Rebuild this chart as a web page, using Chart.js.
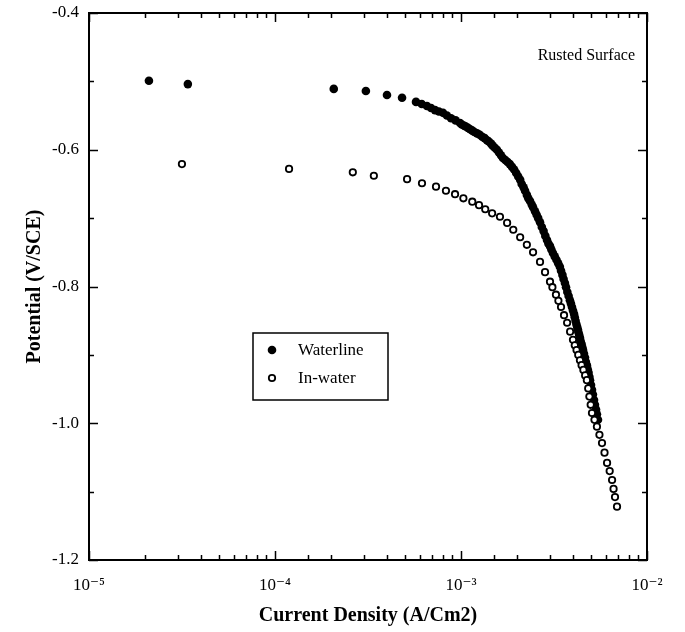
<!DOCTYPE html>
<html>
<head>
<meta charset="utf-8">
<script src="https://cdn.jsdelivr.net/npm/chart.js@4.4.1/dist/chart.umd.min.js"></script>
<style>
  html, body { margin: 0; padding: 0; background: #fff; }
  #wrap { width: 685px; height: 632px; }
</style>
</head>
<body>
<div id="wrap"><canvas id="polChart" width="685" height="632"></canvas></div>
<script>
// valores (densidade de corrente em A/cm2, potencial em V/SCE)
const waterlineX = [2.10e-5, 3.40e-5, 2.07e-4, 3.08e-4, 4.00e-4, 4.82e-4, 5.73e-4, 6.15e-4, 6.56e-4, 6.90e-4,
  7.25e-4, 7.60e-4, 8.00e-4, 8.40e-4, 8.84e-4, 9.35e-4, 9.88e-4, 1.01e-3, 1.04e-3, 1.06e-3,
  1.09e-3, 1.12e-3, 1.15e-3, 1.18e-3, 1.22e-3, 1.26e-3, 1.30e-3, 1.34e-3, 1.38e-3, 1.41e-3,
  1.45e-3, 1.48e-3, 1.52e-3, 1.56e-3, 1.60e-3, 1.64e-3, 1.68e-3, 1.73e-3, 1.78e-3, 1.83e-3,
  1.88e-3, 1.93e-3, 1.98e-3, 2.03e-3, 2.08e-3, 2.12e-3, 2.17e-3, 2.21e-3, 2.26e-3, 2.30e-3,
  2.35e-3, 2.40e-3, 2.44e-3, 2.50e-3, 2.55e-3, 2.60e-3, 2.66e-3, 2.72e-3, 2.78e-3, 2.84e-3,
  2.90e-3, 2.95e-3, 3.01e-3, 3.06e-3, 3.12e-3, 3.19e-3, 3.26e-3, 3.33e-3, 3.40e-3, 3.45e-3,
  3.51e-3, 3.56e-3, 3.62e-3, 3.67e-3, 3.73e-3, 3.79e-3, 3.85e-3, 3.90e-3, 3.95e-3, 4.00e-3,
  4.05e-3, 4.09e-3, 4.13e-3, 4.17e-3, 4.21e-3, 4.25e-3, 4.28e-3, 4.32e-3, 4.36e-3, 4.40e-3,
  4.45e-3, 4.49e-3, 4.53e-3, 4.58e-3, 4.64e-3, 4.69e-3, 4.75e-3, 4.80e-3, 4.85e-3, 4.90e-3,
  4.94e-3, 5.00e-3, 5.06e-3, 5.12e-3, 5.19e-3, 5.25e-3, 5.32e-3, 5.38e-3, 5.45e-3];
const waterlineY = [-0.499, -0.504, -0.511, -0.514, -0.520, -0.524, -0.530, -0.533, -0.536, -0.539,
  -0.542, -0.544, -0.546, -0.550, -0.554, -0.557, -0.561, -0.563, -0.565, -0.566,
  -0.568, -0.570, -0.572, -0.574, -0.576, -0.578, -0.581, -0.583, -0.586, -0.588,
  -0.591, -0.594, -0.597, -0.600, -0.604, -0.608, -0.612, -0.615, -0.618, -0.621,
  -0.625, -0.629, -0.634, -0.639, -0.644, -0.650, -0.655, -0.660, -0.666, -0.671,
  -0.675, -0.680, -0.684, -0.690, -0.695, -0.700, -0.706, -0.713, -0.719, -0.726,
  -0.732, -0.737, -0.741, -0.746, -0.751, -0.756, -0.761, -0.766, -0.771, -0.777,
  -0.783, -0.789, -0.795, -0.801, -0.808, -0.814, -0.820, -0.825, -0.830, -0.835,
  -0.840, -0.845, -0.850, -0.855, -0.859, -0.863, -0.867, -0.871, -0.875, -0.880,
  -0.884, -0.889, -0.893, -0.898, -0.904, -0.910, -0.915, -0.921, -0.926, -0.932,
  -0.937, -0.944, -0.951, -0.958, -0.966, -0.973, -0.980, -0.987, -0.995];

const inWaterX = [3.16e-5, 1.19e-4, 2.62e-4, 3.40e-4, 5.13e-4, 6.17e-4, 7.34e-4, 8.30e-4, 9.29e-4, 1.03e-3,
  1.15e-3, 1.25e-3, 1.35e-3, 1.47e-3, 1.62e-3, 1.77e-3, 1.91e-3, 2.08e-3, 2.26e-3, 2.44e-3,
  2.66e-3, 2.83e-3, 3.01e-3, 3.10e-3, 3.24e-3, 3.34e-3, 3.45e-3, 3.58e-3, 3.72e-3, 3.86e-3,
  4.00e-3, 4.09e-3, 4.18e-3, 4.27e-3, 4.36e-3, 4.45e-3, 4.55e-3, 4.65e-3, 4.75e-3, 4.83e-3,
  4.90e-3, 4.98e-3, 5.06e-3, 5.22e-3, 5.38e-3, 5.55e-3, 5.73e-3, 5.91e-3, 6.10e-3, 6.30e-3,
  6.49e-3, 6.61e-3, 6.73e-3, 6.90e-3];
const inWaterY = [-0.621, -0.628, -0.633, -0.638, -0.643, -0.649, -0.654, -0.660, -0.665, -0.671,
  -0.676, -0.681, -0.687, -0.693, -0.698, -0.707, -0.717, -0.728, -0.739, -0.750,
  -0.764, -0.779, -0.793, -0.801, -0.812, -0.821, -0.830, -0.842, -0.853, -0.866,
  -0.878, -0.886, -0.893, -0.900, -0.908, -0.915, -0.922, -0.930, -0.937, -0.949,
  -0.961, -0.973, -0.985, -0.995, -1.005, -1.017, -1.029, -1.043, -1.058, -1.070,
  -1.083, -1.096, -1.108, -1.122];

const seriesNames = ['Waterline', 'In-water'];
const xLimits = [1e-5, 1e-2];
const yLimits = [-1.2, -0.4];
const yLabelTicks = [-0.4, -0.6, -0.8, -1.0, -1.2];
const annotationText = 'Rusted Surface';

const SERIF = '"Liberation Serif", "Times New Roman", "DejaVu Serif", serif';
const SUP = { '-': '\u207B', '0': '\u2070', '1': '\u00B9', '2': '\u00B2', '3': '\u00B3', '4': '\u2074', '5': '\u2075', '6': '\u2076', '7': '\u2077', '8': '\u2078', '9': '\u2079' };

function pares(xs, ys) {
    return xs.map((x, i) => ({ x: x, y: ys[i] }));
}

// moldura, ticks internos nos quatro lados, legenda e anotação
const molduraPlugin = {
    id: 'moldura',
    afterDraw(chart) {
        const ctx = chart.ctx;
        const a = chart.chartArea;
        const sx = chart.scales.x, sy = chart.scales.y;
        ctx.save();
        ctx.strokeStyle = '#000';
        ctx.lineWidth = 1.5;
        ctx.beginPath();
        sx.ticks.forEach(t => {
            const px = Math.round(sx.getPixelForValue(t.value)) + 0.5;
            const major = Math.abs(Math.log10(t.value) - Math.round(Math.log10(t.value))) < 1e-6;
            const len = major ? 9 : 5;
            ctx.moveTo(px, a.bottom); ctx.lineTo(px, a.bottom - len);
            ctx.moveTo(px, a.top); ctx.lineTo(px, a.top + len);
        });
        sy.ticks.forEach(t => {
            const py = Math.round(sy.getPixelForValue(t.value)) + 0.5;
            const major = Math.round(t.value * 10) % 2 === 0;
            const len = major ? 9 : 5;
            ctx.moveTo(a.left, py); ctx.lineTo(a.left + len, py);
            ctx.moveTo(a.right, py); ctx.lineTo(a.right - len, py);
        });
        ctx.stroke();
        ctx.lineWidth = 2;
        ctx.strokeRect(a.left, a.top, a.right - a.left, a.bottom - a.top);

        // anotação
        ctx.fillStyle = '#000';
        ctx.font = '16px ' + SERIF;
        ctx.textAlign = 'right';
        ctx.textBaseline = 'alphabetic';
        ctx.fillText(annotationText, a.right - 12, a.top + 47);

        // legenda
        const bx = a.left + 164, by = a.top + 320, bw = 135, bh = 67;
        ctx.lineWidth = 1.5;
        ctx.strokeRect(bx, by, bw, bh);
        ctx.font = '17px ' + SERIF;
        ctx.textAlign = 'left';
        ctx.textBaseline = 'middle';
        chart.data.datasets.forEach((ds, i) => {
            const cy = by + 17 + i * 28;
            ctx.beginPath();
            ctx.arc(bx + 19, cy, ds.pointRadius, 0, Math.PI * 2);
            ctx.fillStyle = ds.backgroundColor;
            ctx.fill();
            if (ds.borderWidth > 0) {
                ctx.lineWidth = ds.borderWidth;
                ctx.strokeStyle = ds.borderColor;
                ctx.stroke();
            }
            ctx.fillStyle = '#000';
            ctx.fillText(ds.label, bx + 45, cy + 1);
        });
        ctx.restore();
    }
};

new Chart(document.getElementById('polChart'), {
    type: 'scatter',
    data: {
        datasets: [
            { label: seriesNames[0], data: pares(waterlineX, waterlineY), pointRadius: 4.3, backgroundColor: '#000', borderColor: '#000', borderWidth: 0, order: 2 },
            { label: seriesNames[1], data: pares(inWaterX, inWaterY), pointRadius: 3.2, backgroundColor: '#fff', borderColor: '#000', borderWidth: 1.8, order: 1 }
        ]
    },
    options: {
        responsive: false,
        animation: false,
        events: [],
        layout: { padding: { top: 13, right: 38, left: 0, bottom: 0 } },
        plugins: { legend: { display: false }, tooltip: { enabled: false } },
        scales: {
            x: {
                type: 'logarithmic',
                min: xLimits[0], max: xLimits[1],
                grid: { display: false },
                border: { display: false },
                afterFit(s) { s.height = 72; },
                ticks: {
                    autoSkip: false, maxRotation: 0, padding: 7, color: '#000',
                    font: { family: SERIF, size: 17 },
                    callback(v) {
                        const e = Math.log10(v);
                        if (Math.abs(e - Math.round(e)) > 1e-6) return '';
                        return '10' + String(Math.round(e)).split('').map(c => SUP[c]).join('');
                    }
                },
                title: { display: true, text: 'Current Density (A/Cm2)', color: '#000', font: { family: SERIF, size: 20, weight: 'bold' }, padding: { top: 0, bottom: 4 } }
            },
            y: {
                min: yLimits[0], max: yLimits[1],
                grid: { display: false },
                border: { display: false },
                afterFit(s) { s.width = 89; },
                ticks: {
                    stepSize: 0.1, autoSkip: false, padding: 2, color: '#000',
                    font: { family: SERIF, size: 17 },
                    callback(v) {
                        const hit = yLabelTicks.find(t => Math.abs(t - v) < 1e-6);
                        return hit !== undefined ? hit.toFixed(1) : '';
                    }
                },
                title: { display: true, text: 'Potential (V/SCE)', color: '#000', font: { family: SERIF, size: 20, weight: 'bold' }, padding: { top: 23, bottom: 0 } }
            }
        }
    },
    plugins: [molduraPlugin]
});
</script>
</body>
</html>
